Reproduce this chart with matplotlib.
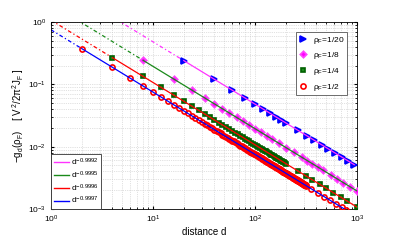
import numpy as np
import matplotlib
matplotlib.use("Agg")
import matplotlib.pyplot as plt
from matplotlib.lines import Line2D

plt.rcParams['font.family'] = ['Liberation Sans', 'DejaVu Sans']
plt.rcParams['mathtext.fontset'] = 'custom'
plt.rcParams['mathtext.rm'] = 'Liberation Sans'
plt.rcParams['mathtext.it'] = 'Liberation Sans'

# distances where markers were drawn
d_half = np.concatenate([np.arange(2, 317, 2), [354, 412, 475, 543, 623, 708, 775]])
d_quarter = np.concatenate([np.arange(4, 201, 4), [266, 314, 365, 430, 500, 585, 692, 804, 990]])
d_eighth = np.array([8, 16, 24, 32, 40, 48, 56, 66, 76, 87, 100, 115, 130, 146, 170, 201,
                     240, 287, 326, 365, 411, 467, 556, 631, 733, 854, 990])
d_twentieth = np.array([20, 40, 60, 80, 100, 120, 140, 160, 180, 200, 265, 320, 380, 450,
                        525, 610, 710, 810, 940])

# power law fits: amplitude, exponent
amp = {'1/20': 4.8, '1/8': 1.94, '1/4': 1.07, '1/2': 0.75}
expo = {'1/20': 0.9992, '1/8': 0.9995, '1/4': 0.9996, '1/2': 0.9997}

# rho, distances, marker, size, face, edge
marker_series = [
    ('1/20', d_twentieth, '>', 4.6, '#0000ff', '#0000ff'),
    ('1/8', d_eighth, 'D', 3.3, '#ff00ff', '#ff44ff'),
    ('1/4', d_quarter, 's', 3.5, '#1a8a1a', '#006000'),
    ('1/2', d_half, 'o', 3.7, 'none', '#ff0000'),
]
fit_colors = {'1/20': '#ff33ff', '1/8': '#1a8a1a', '1/4': '#ff0000', '1/2': '#0000ff'}

fig = plt.figure(figsize=(3.95, 2.42), dpi=100)
ax = fig.add_axes([51 / 395, 1 - 209 / 242, 306 / 395, 187 / 242])

for rho, d, mk, ms, fc, ec in marker_series:
    A, p = amp[rho], expo[rho]
    c = fit_colors[rho]
    dd = np.array([1.0, d[0]])
    ax.plot(dd, A * dd ** -p, color=c, lw=0.9, ls=(0, (3, 2, 1, 2)), zorder=2)
    ds = np.geomspace(d[0], d[-1], 50)
    ax.plot(ds, A * ds ** -p, color=c, lw=0.9, zorder=4)

handles = []
for rho, d, mk, ms, fc, ec in marker_series:
    A, p = amp[rho], expo[rho]
    ax.plot(d, A * d ** -p, ls='none', marker=mk, ms=ms, mfc=fc, mec=ec, mew=1.2, zorder=3)
    handles.append(Line2D([], [], ls='none', marker=mk, ms=ms, mfc=fc, mec=ec, mew=1.2,
                          label=r'$\rho_F$=' + rho))

ax.set_xscale('log')
ax.set_yscale('log')
ax.set_xlim(1, 1000)
ax.set_ylim(1e-3, 1)
ax.grid(True, which='both', ls=':', lw=0.5, color='#c4c4c4')
ax.tick_params(which='both', direction='in', labelsize=6, length=2.5, top=True, right=True)
ax.tick_params(which='minor', length=1.5)
for s in ax.spines.values():
    s.set_linewidth(0.6)

ax.set_xlabel('distance d', fontsize=7, labelpad=1)
ax.set_ylabel(r'$-g_d(\rho_F)$    [ $V^2/2\pi^2 J_F$ ]', fontsize=7, labelpad=2)

leg1 = ax.legend(handles=handles, loc='upper right', fontsize=6, frameon=True,
                 fancybox=False, edgecolor='#555555', framealpha=1, handlelength=1.0,
                 handletextpad=0.6, borderpad=0.35, labelspacing=0.55, borderaxespad=0,
                 bbox_to_anchor=(0.967, 0.947))
leg1.get_frame().set_linewidth(0.6)
ax.add_artist(leg1)

fit_handles = [Line2D([], [], color=fit_colors[r], lw=1.0, label=r'd$^{-%.4f}$' % expo[r])
               for r in ['1/20', '1/8', '1/4', '1/2']]
leg2 = ax.legend(handles=fit_handles, loc='lower left', fontsize=6, frameon=True,
                 fancybox=False, edgecolor='#333333', framealpha=1, handlelength=1.8,
                 handletextpad=0.3, borderpad=0.3, labelspacing=0.2, borderaxespad=0)
leg2.get_frame().set_linewidth(0.6)

fig.savefig('out.png', dpi=100)
